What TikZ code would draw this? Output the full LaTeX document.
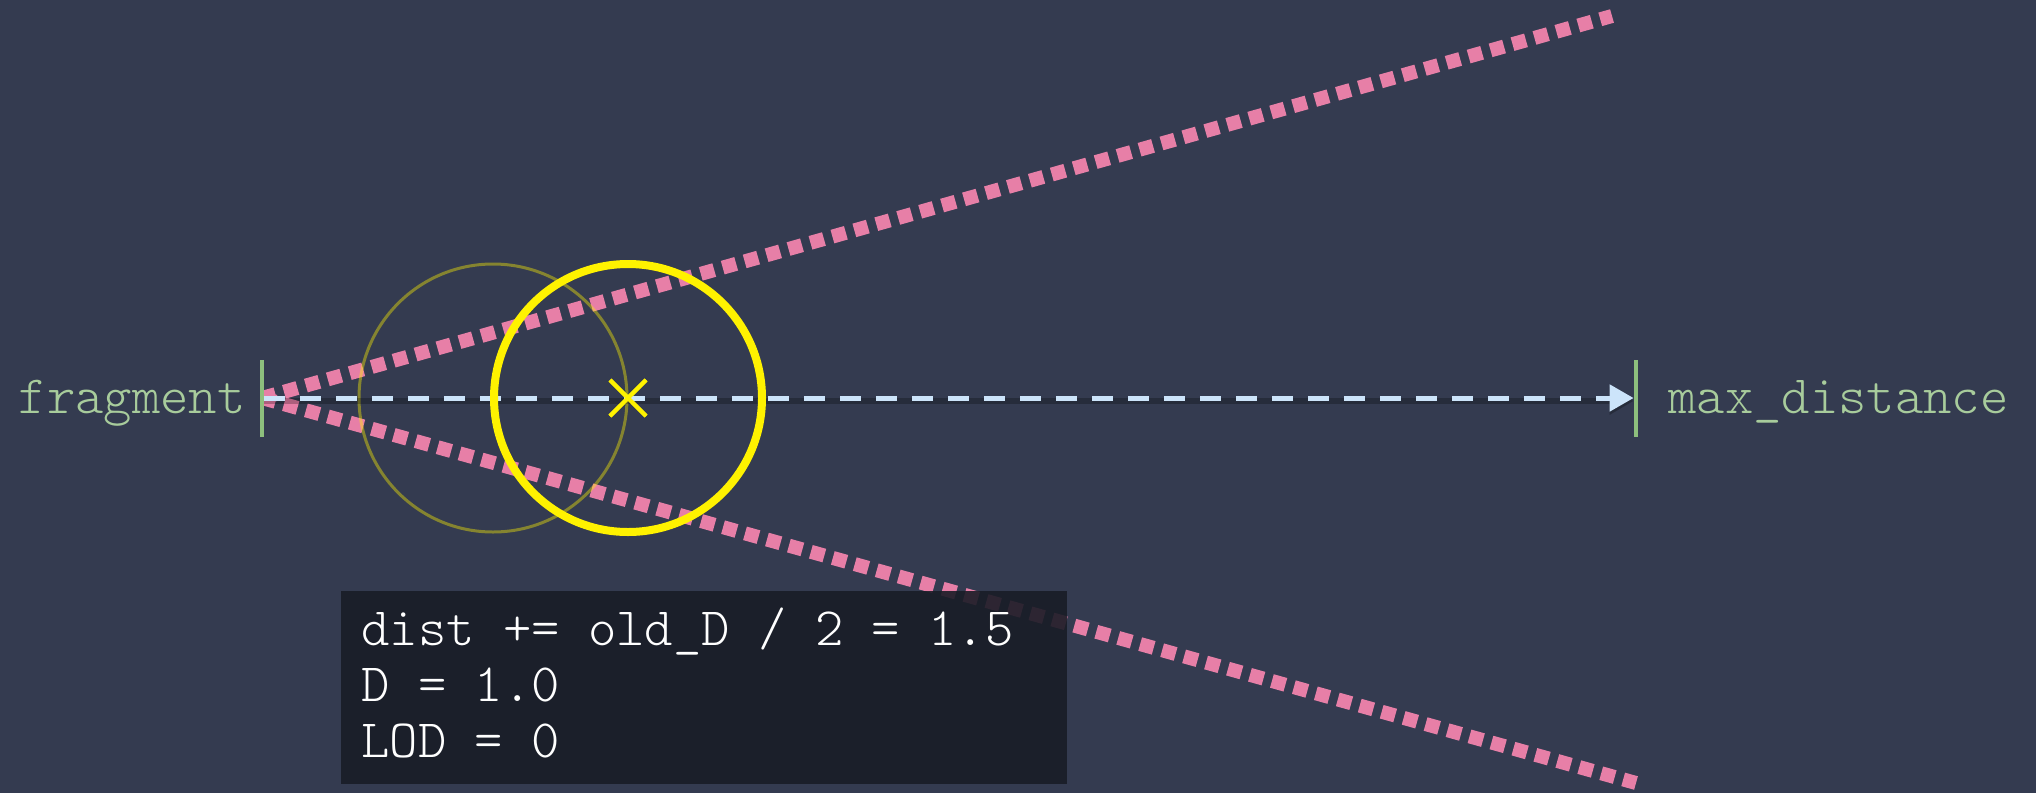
\documentclass[tikz,border=0pt]{standalone}
\usepackage{fontspec}
\setmainfont{Latin Modern Mono Light}
\usepackage{xcolor}
\usepackage{tikz}
\usetikzlibrary{arrows.meta,positioning,shapes.misc}
\definecolor{slate}{HTML}{343B50}
\definecolor{conepink}{HTML}{E77FA7}
\definecolor{raysky}{HTML}{CCE4FA}
\definecolor{tickgreen}{HTML}{8DBF7D}
\definecolor{labelgreen}{HTML}{A8CC9C}
\definecolor{panelink}{HTML}{191C26}
\newcommand{\monosize}{\fontsize{27}{28}\selectfont}

\begin{document}
\begin{tikzpicture}[
  x=0.5pt, y=-0.5pt,
  cone/.style={conepink, line width=7pt, dash pattern=on 7pt off 4.4pt},
  ray/.style={-{Triangle[length=12pt, width=13pt]}, raysky, line width=2.5pt, dash pattern=on 10.5pt off 7.5pt,
    preaction={draw, black, opacity=.25, line width=3pt, transform canvas={yshift=-1.5pt}}},
  tick/.style={fill=tickgreen, minimum width=2pt, minimum height=38.5pt, inner sep=0pt},
  label/.style={text=labelgreen, font=\monosize, inner sep=0pt},
  oldball/.style={draw=yellow, draw opacity=.4, line width=1.5pt},
  newball/.style={draw=yellow, line width=4pt},
  center/.style={draw=yellow, cross out, line width=2pt, minimum size=16pt, inner sep=0pt},
  panel/.style={fill=panelink, fill opacity=.9, minimum width=363pt, minimum height=96.5pt, inner sep=0pt},
  code/.style={text=white, font=\monosize, inner sep=0pt, anchor=base west}
]
\fill[slate] (0,0) rectangle (2036,793);
\useasboundingbox (0,0) rectangle (2036,793);

\node[tick] (fragtick) at (262,398) {};
\node[tick] (maxtick) at (1636,398) {};
\coordinate (coneup) at (1612,16);
\coordinate (conedown) at (1636,783);
\coordinate (oldmid) at (493,398);
\node[center] (newmid) at (628,398) {};

\draw[cone] (fragtick.center) -- (coneup);
\draw[cone] (fragtick.center) -- (conedown);
\draw[oldball] (oldmid) circle[radius=134];
\draw[ray] (fragtick) -- (maxtick);
\draw[newball] (newmid) circle[radius=134];
\node[center] at (newmid) {};
\node[tick] at (fragtick) {};
\node[tick] at (maxtick) {};

\node[label, anchor=base east] (fraglabel) at (246,413) {fragment};
\node[label, anchor=base west] (maxlabel) at (1668,413) {max\_distance};

\node[panel] (note) at (704,687.5) {};
\node[code] (distline) at (361,645) {dist += old\_D / 2 = 1.5};
\node[code] (dline) at (361,701) {D = 1.0};
\node[code] (lodline) at (361,757) {LOD = 0};
\end{tikzpicture}
\end{document}
